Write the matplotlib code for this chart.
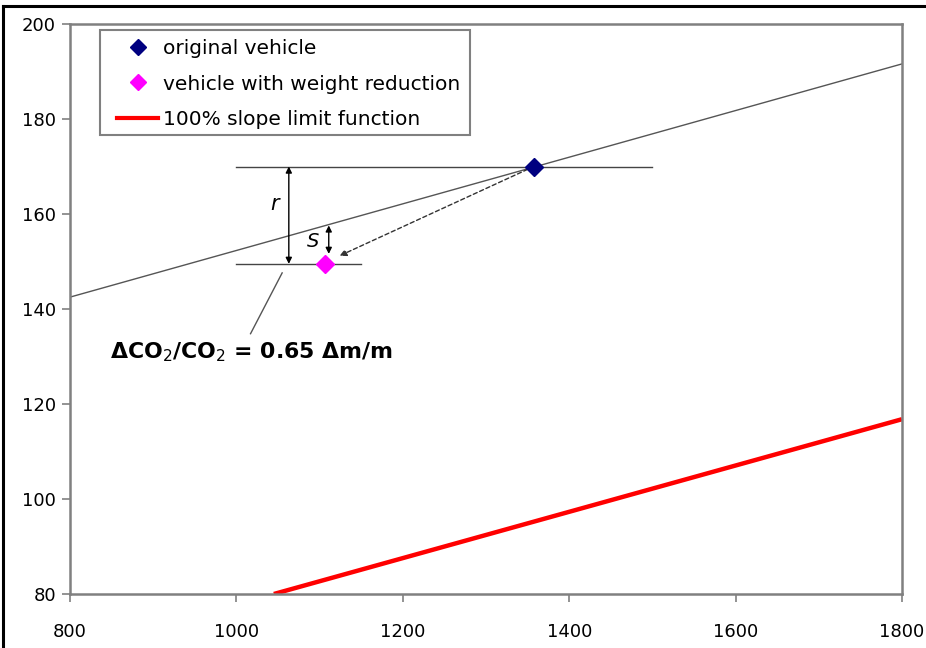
import matplotlib.pyplot as plt
from matplotlib.lines import Line2D
from matplotlib.patches import Rectangle

# chart values
x_trend = [800, 1800]
y_trend = [142.5, 191.6]
x_limit = [1045, 1800]
y_limit = [80, 116.8]
original = (1358, 170)
reduced = (1107, 149.5)
x_ticks = [800, 1000, 1200, 1400, 1600, 1800]
y_ticks = [80, 100, 120, 140, 160, 180, 200]

plt.rcParams["font.family"] = ["DejaVu Sans"]

fig = plt.figure(figsize=(9.26, 6.48), dpi=100)
ax = fig.add_axes([70 / 926, 1 - 594 / 648, 832 / 926, 570 / 648])

# frame of the original picture (top and left only)
fig.add_artist(Line2D([0.003, 0.003], [0, 0.991], transform=fig.transFigure, color="black", lw=2.2))
fig.add_artist(Line2D([0.003, 1.0], [0.991, 0.991], transform=fig.transFigure, color="black", lw=2.2))

# trend line and slope limit
ax.plot(x_trend, y_trend, color="#555555", lw=1.0, zorder=2)
ax.plot(x_limit, y_limit, color="#ff0000", lw=3.2, solid_capstyle="butt", zorder=2)

# horizontal reference lines
ax.plot([1000, 1500], [original[1], original[1]], color="#444444", lw=1.0, zorder=2)
ax.plot([1000, 1150], [reduced[1], reduced[1]], color="#444444", lw=1.0, zorder=2)

# r and s arrows
ax.annotate("", xy=(1063, original[1]), xytext=(1063, reduced[1]),
            arrowprops=dict(arrowstyle="<|-|>", color="black", lw=1.0,
                            mutation_scale=9, shrinkA=0, shrinkB=0))
ax.annotate("", xy=(1111, 157.6), xytext=(1111, 151.6),
            arrowprops=dict(arrowstyle="<|-|>", color="black", lw=1.0,
                            mutation_scale=9, shrinkA=0, shrinkB=0))
ax.text(1046, 162, "r", fontsize=15, style="italic", ha="center", va="center")
ax.text(1092, 154.3, "S", fontsize=14, style="italic", ha="center", va="center")

# dashed move from original to reduced vehicle
ax.annotate("", xy=(1124, 151.2), xytext=(1350, 169.4),
            arrowprops=dict(arrowstyle="-|>", color="#333333", lw=1.0, ls=(0, (3, 2)),
                            mutation_scale=10, shrinkA=0, shrinkB=0))

# points
ax.plot(*original, marker="D", color="#000080", ms=9, ls="none", zorder=4)
ax.plot(*reduced, marker="D", color="#ff00ff", ms=9, ls="none", zorder=4)

# label and leader line
ax.plot([1055, 1017], [147.6, 134.8], color="#555555", lw=1.0)
ax.text(848, 130.8, "ΔCO$_2$/CO$_2$ = 0.65 Δm/m", fontsize=15.8, fontweight="bold",
        ha="left", va="center")

# axes styling
ax.set_xlim(800, 1800)
ax.set_ylim(80, 200)
ax.set_xticks(x_ticks)
ax.set_yticks(y_ticks)
ax.tick_params(labelsize=13, direction="out", length=6, width=1.2, color="#808080", pad=15)
ax.tick_params(axis="y", pad=4)
for s in ax.spines.values():
    s.set_color("#808080")
    s.set_linewidth(1.8)

# legend box drawn separately so its padding matches the original
ax.add_patch(Rectangle((0.036, 0.805), 0.445, 0.184, transform=ax.transAxes,
                       facecolor="white", edgecolor="#808080", lw=1.5, zorder=5))
handles = [
    Line2D([], [], marker="D", color="#000080", ls="none", ms=8),
    Line2D([], [], marker="D", color="#ff00ff", ls="none", ms=8),
    Line2D([], [], color="#ff0000", lw=3),
]
labels = ["original vehicle", "vehicle with weight reduction", "100% slope limit function"]
leg = ax.legend(handles, labels, loc="upper left", bbox_to_anchor=(0.0565, 0.973),
                borderaxespad=0, borderpad=0, fontsize=14.5, frameon=False,
                handlelength=2.05, handletextpad=0.25, labelspacing=0.8)
leg.set_zorder(6)

fig.savefig("out.png", dpi=100)
